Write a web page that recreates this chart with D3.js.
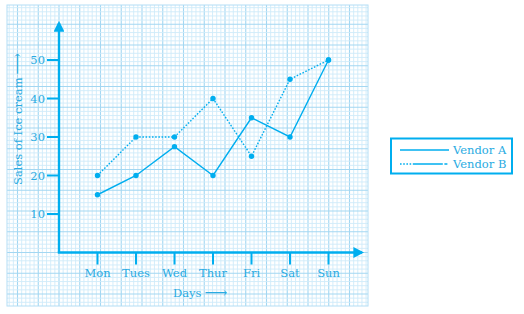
<!DOCTYPE html>
<html>
<head>
<meta charset="utf-8">
<script src="https://cdn.jsdelivr.net/npm/d3@7"></script>
<style>
  body { margin: 0; background: #fff; }
  text { font-family: "DejaVu Serif", serif; fill: #29abe2; }
</style>
</head>
<body>
<svg id="chart" width="524" height="314"></svg>
<script>
const days = ["Mon", "Tues", "Wed", "Thur", "Fri", "Sat", "Sun"]
const vendorA = [15, 20, 27.5, 20, 35, 30, 50]
const vendorB = [20, 30, 30, 40, 25, 45, 50]
const yTicks = [10, 20, 30, 40, 50]
const seriesNames = ["Vendor A", "Vendor B"]

const blue = "#00aeef"
const svg = d3.select("#chart")

// graph paper area
const paper = { x0: 7, x1: 368, y0: 5, y1: 306 }
const origin = { x: 59, y: 252.5 }
const unit = 3.85   // px per sales unit
const cell = 4.15   // graph paper cell

const y = d3.scaleLinear().domain([0, 50]).range([origin.y, origin.y - 50 * unit])
const x = d3.scalePoint().domain(days).range([origin.x + 10 * unit, origin.x + 70 * unit])

// grid
const grid = svg.append("g")
const gx = d3.scaleLinear().domain([0, 1]).range([origin.x, origin.x + cell])
const gy = d3.scaleLinear().domain([0, 1]).range([origin.y, origin.y - cell])
const vx = d3.range(Math.ceil(gx.invert(paper.x0)), Math.floor(gx.invert(paper.x1)) + 1)
const hy = d3.range(Math.ceil(gy.invert(paper.y1)), Math.floor(gy.invert(paper.y0)) + 1)

grid.selectAll(".vminor").data(vx).join("line")
  .attr("x1", d => gx(d)).attr("x2", d => gx(d))
  .attr("y1", paper.y0).attr("y2", paper.y1)
  .attr("stroke", d => d % 5 == 0 ? "#a3d7f2" : "#cfebf9")
  .attr("stroke-width", d => d % 5 == 0 ? 1.1 : 0.9)

grid.selectAll(".hminor").data(hy).join("line")
  .attr("x1", paper.x0).attr("x2", paper.x1)
  .attr("y1", d => gy(d)).attr("y2", d => gy(d))
  .attr("stroke", d => d % 5 == 0 ? "#a3d7f2" : "#cfebf9")
  .attr("stroke-width", d => d % 5 == 0 ? 1.1 : 0.9)

grid.append("rect")
  .attr("x", paper.x0).attr("y", paper.y0)
  .attr("width", paper.x1 - paper.x0).attr("height", paper.y1 - paper.y0)
  .attr("fill", "none").attr("stroke", "#b3def5").attr("stroke-width", 1)

// axes
const defs = svg.append("defs")
defs.append("marker").attr("id", "arrow")
  .attr("viewBox", "0 0 10 10").attr("refX", 8).attr("refY", 5)
  .attr("markerWidth", 4.5).attr("markerHeight", 4.5).attr("orient", "auto")
  .append("path").attr("d", "M0,0L10,5L0,10Z").attr("fill", blue)

svg.append("line")
  .attr("x1", origin.x).attr("y1", origin.y).attr("x2", origin.x).attr("y2", 23)
  .attr("stroke", blue).attr("stroke-width", 2.4).attr("marker-end", "url(#arrow)")
svg.append("line")
  .attr("x1", origin.x - 1.2).attr("y1", origin.y).attr("x2", 362).attr("y2", origin.y)
  .attr("stroke", blue).attr("stroke-width", 2.4).attr("marker-end", "url(#arrow)")

svg.selectAll(".ytick").data(yTicks).join("line")
  .attr("x1", origin.x - 12).attr("x2", origin.x)
  .attr("y1", d => y(d)).attr("y2", d => y(d))
  .attr("stroke", blue).attr("stroke-width", 2)
svg.selectAll(".ylab").data(yTicks).join("text")
  .attr("x", origin.x - 14).attr("y", d => y(d)).attr("dy", "0.36em")
  .attr("text-anchor", "end").attr("font-size", 11.5).text(d => d)

svg.selectAll(".xtick").data(days).join("line")
  .attr("x1", d => x(d)).attr("x2", d => x(d))
  .attr("y1", origin.y).attr("y2", origin.y + 12)
  .attr("stroke", blue).attr("stroke-width", 2)
svg.selectAll(".xlab").data(days).join("text")
  .attr("x", d => x(d)).attr("y", origin.y + 24)
  .attr("text-anchor", "middle").attr("font-size", 11.5).text(d => d)

const xt = svg.append("text").attr("x", 173).attr("y", 297).attr("font-size", 11.5)
xt.append("tspan").text("Days")
xt.append("tspan").attr("dx", 3).attr("font-size", 16).attr("dy", 0.5).text("⟶")

const yt = svg.append("text")
  .attr("transform", "translate(22,185) rotate(-90)").attr("font-size", 11.5)
yt.append("tspan").text("Sales of Ice cream")
yt.append("tspan").attr("dx", 3).attr("font-size", 15).text("⟶")

// lines
const line = d3.line().x((d, i) => x(days[i])).y(d => y(d))
const series = [vendorA, vendorB]
const dash = [null, "1.6,1.6"]

series.forEach((s, k) => {
  svg.append("path").datum(s)
    .attr("d", line).attr("fill", "none")
    .attr("stroke", blue).attr("stroke-width", 1.4)
    .attr("stroke-dasharray", dash[k])
  svg.selectAll(".pt" + k).data(s).join("circle")
    .attr("cx", (d, i) => x(days[i])).attr("cy", d => y(d))
    .attr("r", 2.7).attr("fill", blue)
})

// legend
const lg = svg.append("g").attr("transform", "translate(391,138.5)")
lg.append("rect").attr("width", 121).attr("height", 35)
  .attr("fill", "#fff").attr("stroke", blue).attr("stroke-width", 2)
seriesNames.forEach((name, k) => {
  const ly = 11.5 + k * 14
  lg.append("line").attr("x1", 9).attr("x2", 58).attr("y1", ly).attr("y2", ly)
    .attr("stroke", blue).attr("stroke-width", 1.6)
    .attr("stroke-dasharray", k == 1 ? "1.6,1.6,1.6,1.6,1.6,1.6,1.6,1.6,30,1.6,3,1.6" : null)
  lg.append("text").attr("x", 62).attr("y", ly).attr("dy", "0.35em")
    .attr("font-size", 11.5).text(name)
})
</script>
</body>
</html>
